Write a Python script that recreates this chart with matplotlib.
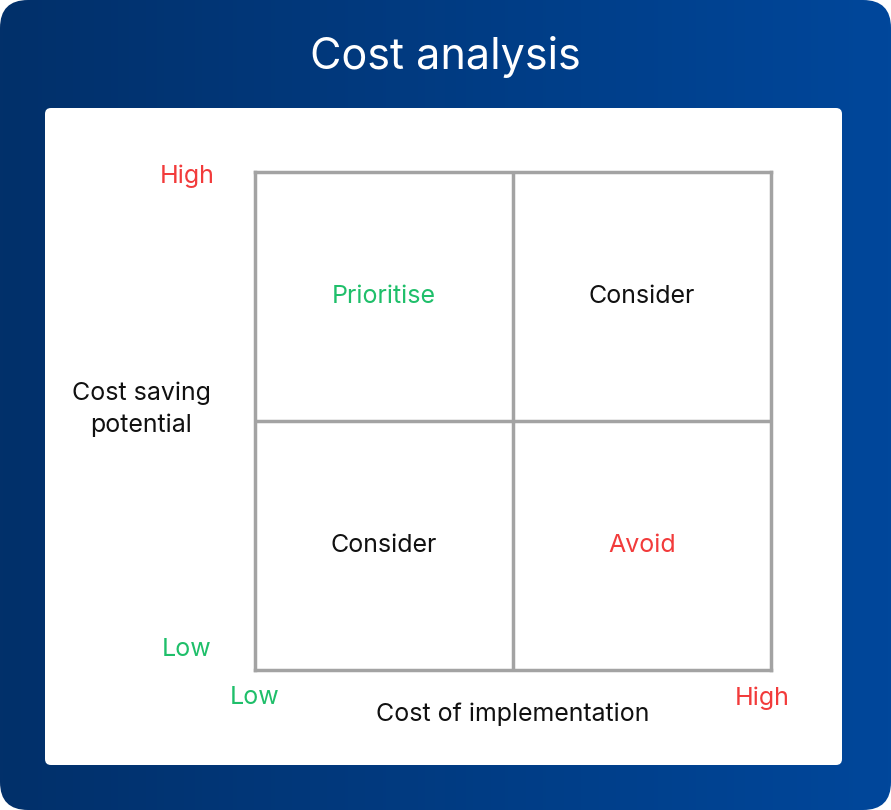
import matplotlib
matplotlib.use("Agg")
import matplotlib.pyplot as plt
import numpy as np
from matplotlib.patches import FancyBboxPatch

plt.rcParams['font.family'] = ['Inter', 'DejaVu Sans']

title = "Cost analysis"
quad_labels = ["Prioritise", "Consider", "Consider", "Avoid"]
quad_cols = [0, 1, 0, 1]
quad_rows = [1, 1, 0, 0]
quad_colors = ["#1fbf6a", "#111111", "#111111", "#f23b3b"]
x_label = "Cost of implementation"
y_label = "Cost saving\npotential"
GREEN, RED = "#1fbf6a", "#f23b3b"

W, H = 891, 810
fig = plt.figure(figsize=(W/100, H/100), dpi=100)
bg = fig.add_axes([0, 0, 1, 1])
bg.set_xlim(0, W); bg.set_ylim(H, 0); bg.axis('off')

outer = FancyBboxPatch((0, 0), W, H, boxstyle="round,pad=0,rounding_size=28",
                       facecolor='none', edgecolor='none')
bg.add_patch(outer)
grad = np.linspace(0, 1, 256).reshape(1, -1)
from matplotlib.colors import LinearSegmentedColormap
cmap = LinearSegmentedColormap.from_list("b", ["#02306a", "#00479b"])
im = bg.imshow(grad, extent=[0, W, H, 0], cmap=cmap, aspect='auto')
im.set_clip_path(outer)
bg.add_patch(FancyBboxPatch((45, 108), 797, 657, boxstyle="round,pad=0,rounding_size=6",
                            facecolor='white', edgecolor='none'))
bg.text(445, 57, title, color='white', fontsize=31, ha='center', va='center')

# grid axes: pixel box 255-771 x, 172-670 y
ax = fig.add_axes([255/W, 1-670/H, (771-255)/W, (670-172)/H])
ax.set_xlim(0, 2); ax.set_ylim(0, 2)
ax.set_xticks([]); ax.set_yticks([])
for s in ax.spines.values():
    s.set_color('#a3a3a3'); s.set_linewidth(2.5)
ax.axvline(1, color='#a3a3a3', lw=2.5)
ax.axhline(1, color='#a3a3a3', lw=2.5)
ax.patch.set_alpha(0)
for lab, c, r, col in zip(quad_labels, quad_cols, quad_rows, quad_colors):
    ax.text(c + 0.5, r + 0.5, lab, color=col, fontsize=18, ha='center', va='center')

fs = 18
bg.text(187, 176, "High", color=RED, fontsize=fs, ha='center', va='center')
bg.text(187, 650, "Low", color=GREEN, fontsize=fs, ha='center', va='center')
bg.text(255, 698, "Low", color=GREEN, fontsize=fs, ha='center', va='center')
bg.text(762, 698, "High", color=RED, fontsize=fs, ha='center', va='center')
bg.text(513, 714, x_label, color='#111111', fontsize=fs, ha='center', va='center')
bg.text(141, 409, y_label, color='#111111', fontsize=fs, ha='center', va='center',
        linespacing=1.45)

fig.savefig("out.png", dpi=100)
